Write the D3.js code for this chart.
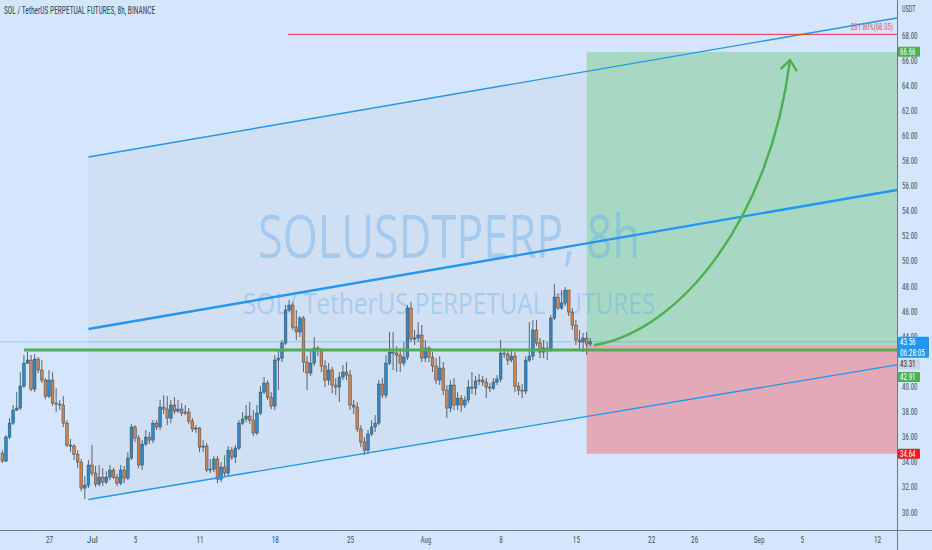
<!DOCTYPE html>
<html><head><meta charset="utf-8">
<script src="https://cdn.jsdelivr.net/npm/d3@7"></script>
<style>
html,body{margin:0;padding:0;background:#d3e6fb;}
svg{display:block;}
</style>
</head><body>
<svg id="chart" width="932" height="550"></svg>
<script>
// ---------- data ----------
const title = "SOL / TetherUS PERPETUAL FUTURES, 8h, BINANCE";
const watermark1 = "SOLUSDTPERP, 8h";
const watermark2 = "SOL/ TetherUS PERPETUAL FUTURES";
const firstCandle = "2021-06-22T16:00:00Z";   // 8h candles
const firstOpen = 34.69;
const closes = [34.06,35.97,37.08,38.12,38.28,40.03,41.86,42.10,39.79,42.18,
41.31,40.51,39.23,40.51,38.68,38.60,38.52,37.08,35.33,35.25,
34.61,33.98,31.90,32.14,33.74,33.10,32.22,32.78,32.38,32.78,
33.34,32.78,32.30,33.34,32.70,34.30,36.77,35.89,33.74,35.41,
35.97,35.73,37.08,36.77,38.36,38.20,37.48,38.52,38.04,38.20,
37.88,37.96,37.24,36.61,36.69,35.17,35.25,33.34,33.42,34.22,
32.62,33.58,33.10,34.93,34.37,35.09,37.08,37.40,37.64,37.32,
36.29,37.88,39.55,40.27,39.15,38.44,42.10,42.26,43.46,46.09,
46.49,44.73,44.34,45.45,41.94,41.07,41.86,43.06,42.90,41.63,
40.51,41.31,40.11,39.95,40.75,41.15,40.91,38.52,38.36,36.61,
35.57,34.93,36.21,36.77,37.08,40.19,39.31,41.86,42.74,42.66,
42.50,41.86,42.34,46.25,43.78,43.86,44.10,42.26,43.06,42.34,
41.63,40.51,41.47,39.71,38.28,40.11,38.52,39.07,38.52,38.92,
39.95,39.87,40.43,40.51,40.35,39.95,39.87,40.35,40.59,42.66,
42.58,42.10,42.42,40.03,39.71,39.63,42.10,42.42,44.50,43.46,
42.74,43.06,42.90,45.45,47.12,46.25,46.65,47.68,45.93,44.89,
43.70,43.54,43.86,43.38,43.56];
const highs = [34.93,36.13,37.48,38.52,39.55,41.15,42.50,42.74,42.50,42.58,
42.34,42.10,40.67,41.31,41.15,39.87,38.92,39.23,37.32,35.81,
35.41,34.93,34.22,32.86,34.14,35.33,33.66,33.74,33.50,33.26,
33.74,33.50,33.02,33.74,33.66,34.77,37.00,36.92,36.13,35.73,
36.53,36.37,37.32,37.32,38.92,39.31,39.23,38.92,39.15,38.92,
38.68,38.52,38.28,37.48,36.92,36.77,35.73,35.49,34.22,34.45,
34.45,33.98,34.53,35.25,35.17,35.33,37.32,37.96,38.52,38.76,
38.12,38.52,40.03,40.75,40.51,39.55,42.50,42.90,43.70,46.49,
46.89,46.73,46.09,45.61,45.61,42.42,42.90,43.94,43.22,43.06,
42.10,41.86,41.55,40.67,41.15,41.71,41.94,41.31,38.92,38.76,
36.92,35.97,36.53,37.32,37.72,40.51,40.67,42.50,44.34,44.34,
43.22,43.06,43.54,46.49,46.73,44.50,45.13,44.89,43.70,43.22,
42.74,42.26,42.42,41.94,40.11,40.51,40.67,39.55,39.31,39.23,
40.51,41.15,40.83,40.99,40.83,40.67,40.27,40.67,40.91,43.70,
43.06,42.90,42.90,42.74,40.35,40.19,42.42,45.13,45.29,45.29,
43.86,43.70,43.54,45.69,48.16,47.36,47.68,47.92,47.68,46.25,
45.29,44.50,44.26,44.34,43.86];
const lows = [33.90,33.98,35.81,36.92,38.04,38.12,39.87,41.79,39.63,39.55,
41.07,40.27,38.99,39.07,38.44,37.96,38.12,36.77,35.17,34.77,
34.14,33.50,31.66,31.03,31.90,32.86,31.98,32.06,32.06,32.22,
32.54,32.62,32.06,32.14,32.30,32.54,34.14,35.57,33.50,33.34,
35.25,35.41,35.49,36.53,36.53,37.80,36.92,37.08,37.80,37.88,
37.64,37.72,37.00,36.37,36.29,34.77,34.77,33.18,33.10,33.18,
32.30,32.38,32.86,32.86,34.14,33.90,34.93,36.92,37.16,37.00,
36.05,36.13,37.72,39.39,38.92,38.20,38.12,39.71,41.94,43.30,
45.93,44.50,43.70,43.94,41.15,39.71,40.83,41.63,42.42,41.15,
39.95,40.11,39.47,39.31,38.76,40.51,40.51,38.12,37.80,36.37,
35.17,34.53,34.61,36.05,36.37,36.92,39.07,39.07,41.71,41.31,
41.15,41.15,41.63,42.10,43.54,43.30,43.54,41.94,41.94,41.94,
41.15,40.19,40.11,39.31,37.48,37.96,38.12,38.12,37.96,38.28,
38.68,39.39,39.31,40.11,40.03,39.07,39.55,39.71,40.11,40.35,
42.26,41.71,41.94,39.55,39.31,39.07,39.39,41.94,42.10,43.22,
42.26,42.26,42.10,42.74,45.29,46.09,46.09,46.41,45.61,44.50,
43.30,42.90,42.74,42.50,43.22];

const timeTicks = ["2021-06-27","2021-07-01","2021-07-05","2021-07-11","2021-07-18","2021-07-25","2021-08-01","2021-08-08","2021-08-15","2021-08-22","2021-08-26","2021-09-01","2021-09-05","2021-09-12"];
const timeTickLabels = ["27","Jul","5","11","18","25","Aug","8","15","22","26","Sep","5","12"];
// 42.00 is hidden behind the stacked price tags on the axis
const priceTicks = [30,32,34,36,38,40,44,46,48,50,52,54,56,58,60,62,64,66,68];

// drawings (date, price)
const channelDates = ["2021-06-30T16:00:00Z","2021-09-13T20:40:00Z"];
const upperLine  = [58.28, 69.35];
const middleLine = [44.58, 55.65];
const lowerLine  = [31.00, 41.72];
const supportLevel = 42.91;
const supportStart = "2021-06-24T16:00:00Z";
const fibLevel = 68.05, fibLabel = "261.80%(68.05)";
const fibStart = "2021-07-19T05:30:00Z";
const positionStart = "2021-08-16T00:00:00Z";
const takeProfit = 66.66, entryPrice = 43.31, stopLoss = 34.64;
const lastPrice = 43.56, countdown = "06:28:05";
const arrowDates  = ["2021-08-16T18:40:00Z","2021-08-24T16:20:00Z","2021-09-02T01:10:00Z","2021-09-03T21:50:00Z"];
const arrowPrices = [43.30, 44.50, 53.26, 66.01];

// ---------- scales ----------
const W = 897, H = 530;
const svg = d3.select("#chart");
const x = d3.scaleUtc()
  .domain([new Date("2021-06-22T10:40:00Z"), new Date("2021-09-13T20:40:00Z")])
  .range([0, W]);
const y = d3.scaleLinear().domain([30, 68]).range([512, 35]);

const t0 = new Date(firstCandle).getTime();
const candles = closes.map((c, i) => ({
  t: new Date(t0 + i * 8 * 3600e3),
  o: i === 0 ? firstOpen : closes[i - 1],
  h: highs[i], l: lows[i], c: c
}));

const NARROW = "'Liberation Sans Narrow','Roboto Condensed','DejaVu Sans Condensed',Arial,sans-serif";
function fit(sel, perChar) {
  sel.each(function () {
    const n = this.textContent.length;
    d3.select(this).attr("textLength", n * perChar).attr("lengthAdjust", "spacingAndGlyphs");
  });
  return sel;
}

svg.append("rect").attr("width", 932).attr("height", 550).attr("fill", "#d3e6fb");

const defs = svg.append("defs");
defs.append("clipPath").attr("id", "plot")
  .append("rect").attr("x", 0).attr("y", 0).attr("width", W).attr("height", H);
defs.append("marker")
  .attr("id", "ah").attr("viewBox", "0 0 10 10").attr("refX", 6).attr("refY", 5)
  .attr("markerWidth", 8).attr("markerHeight", 8).attr("orient", "auto")
  .append("path").attr("d", "M1,1 L6,5 L1,9").attr("fill", "none")
  .attr("stroke", "#4caf50").attr("stroke-width", 1.2).attr("stroke-linecap", "round")
  .attr("stroke-linejoin", "round");

const plot = svg.append("g").attr("clip-path", "url(#plot)");

// channel background fill (only over the drawn part of the channel)
const c0 = new Date(channelDates[0]), c1 = new Date(channelDates[1]), pS = new Date(positionStart);
const frac = (pS - c0) / (c1 - c0);
const upAt = upperLine[0] + (upperLine[1] - upperLine[0]) * frac;
const loAt = lowerLine[0] + (lowerLine[1] - lowerLine[0]) * frac;
plot.append("path")
  .attr("d", d3.line()([[x(c0), y(upperLine[0])], [x(pS), y(upAt)], [x(pS), y(loAt)], [x(c0), y(lowerLine[0])]]) + "Z")
  .attr("fill", "#c9d2de").attr("opacity", 0.3);

// position tool
const px0 = x(pS);
plot.append("rect").attr("x", px0).attr("y", y(takeProfit))
  .attr("width", W - px0).attr("height", y(entryPrice) - y(takeProfit))
  .attr("fill", "#a7d8c4");
plot.append("rect").attr("x", px0).attr("y", y(entryPrice))
  .attr("width", W - px0).attr("height", y(stopLoss) - y(entryPrice))
  .attr("fill", "#e2a9b7");

// watermark (semi-transparent, over the boxes)
plot.append("text").attr("x", 449).attr("y", 258).attr("text-anchor", "middle")
  .attr("font-family", "'Open Sans',sans-serif").attr("font-size", 60)
  .attr("textLength", 382).attr("lengthAdjust", "spacingAndGlyphs")
  .attr("fill", "#62adec").attr("fill-opacity", 0.4).text(watermark1);
plot.append("text").attr("x", 449).attr("y", 314).attr("text-anchor", "middle")
  .attr("font-family", "'Open Sans',sans-serif").attr("font-size", 30)
  .attr("textLength", 412).attr("lengthAdjust", "spacingAndGlyphs")
  .attr("fill", "#62adec").attr("fill-opacity", 0.4).text(watermark2);

// last price line
plot.append("line").attr("x1", 0).attr("x2", W).attr("y1", y(lastPrice)).attr("y2", y(lastPrice))
  .attr("stroke", "#2196f3").attr("stroke-opacity", 0.35).attr("stroke-width", 1);

// candles
const cg = plot.append("g");
const bw = 2.7;
cg.selectAll("line.w").data(candles).join("line")
  .attr("x1", d => x(d.t)).attr("x2", d => x(d.t))
  .attr("y1", d => y(d.h)).attr("y2", d => y(d.l))
  .attr("stroke", "#4b5661").attr("stroke-width", 0.9);
cg.selectAll("rect.b").data(candles).join("rect")
  .attr("x", d => x(d.t) - bw / 2)
  .attr("y", d => y(Math.max(d.o, d.c)))
  .attr("width", bw)
  .attr("height", d => Math.max(1, Math.abs(y(d.o) - y(d.c))))
  .attr("fill", d => d.c >= d.o ? "#2b8acb" : "#d0834f")
  .attr("stroke", "#3c4650").attr("stroke-width", 0.5);

// channel lines
const lineFrom = (vals, w) => plot.append("line")
  .attr("x1", x(c0)).attr("y1", y(vals[0]))
  .attr("x2", x(c1)).attr("y2", y(vals[1]))
  .attr("stroke", "#2196f3").attr("stroke-width", w);
lineFrom(upperLine, 1.4);
lineFrom(middleLine, 2.4);
lineFrom(lowerLine, 1.4);

// support level
plot.append("line").attr("x1", x(new Date(supportStart))).attr("x2", W)
  .attr("y1", y(supportLevel)).attr("y2", y(supportLevel))
  .attr("stroke", "#4caf50").attr("stroke-width", 3);

// fib line
plot.append("line").attr("x1", x(new Date(fibStart))).attr("x2", W)
  .attr("y1", y(fibLevel)).attr("y2", y(fibLevel))
  .attr("stroke", "#e53935").attr("stroke-width", 1);
fit(plot.append("text").attr("x", 893).attr("y", y(fibLevel) - 4).attr("text-anchor", "end")
  .attr("font-family", NARROW).attr("font-size", 8.5).attr("fill", "#e0556a").text(fibLabel), 3.0);

// arrow
const ap = arrowDates.map((d, i) => [x(new Date(d)), y(arrowPrices[i])]);
const path = d3.path();
path.moveTo(ap[0][0], ap[0][1]);
path.bezierCurveTo(ap[1][0], ap[1][1], ap[2][0], ap[2][1], ap[3][0], ap[3][1]);
plot.append("path").attr("d", path.toString()).attr("fill", "none")
  .attr("stroke", "#4caf50").attr("stroke-width", 2.4).attr("stroke-linecap", "round")
  .attr("marker-end", "url(#ah)");

// ---------- axes ----------
const xAxis = d3.axisBottom(x)
  .tickValues(timeTicks.map(s => new Date(s + "T00:00:00Z")))
  .tickFormat((d, i) => timeTickLabels[i]).tickSize(0).tickPadding(6);
const gx = svg.append("g").attr("transform", `translate(0,${H})`).call(xAxis);
gx.select(".domain").remove();
fit(gx.selectAll("text").attr("font-family", NARROW).attr("font-size", 9.5).attr("fill", "#4a5058"), 3.6);

const yAxis = d3.axisRight(y).tickValues(priceTicks).tickFormat(d3.format(".2f"))
  .tickSize(0).tickPadding(5);
const gy = svg.append("g").attr("transform", `translate(${W},0)`).call(yAxis);
gy.select(".domain").remove();
fit(gy.selectAll("text").attr("font-family", NARROW).attr("font-size", 9.5).attr("fill", "#4a5058"), 3.1);

fit(svg.append("text").attr("x", 902).attr("y", 12).attr("font-family", NARROW)
  .attr("font-size", 9.5).attr("fill", "#4a5058").text("USDT"), 3.4);

svg.append("line").attr("x1", 0).attr("x2", 932).attr("y1", H + 0.5).attr("y2", H + 0.5)
  .attr("stroke", "#6f7880").attr("stroke-width", 1);
svg.append("line").attr("x1", W + 0.5).attr("x2", W + 0.5).attr("y1", 0).attr("y2", 550)
  .attr("stroke", "#6f7880").attr("stroke-width", 1);

// price tags on axis (stacked like the platform does)
function tag(yc, lines, bg, fg, w) {
  const lh = 11;
  const h = lh * lines.length - 1;
  const g = svg.append("g");
  g.append("rect").attr("x", W + 1).attr("y", yc - 5).attr("width", w).attr("height", h)
    .attr("rx", 1).attr("fill", bg);
  lines.forEach((s, i) => fit(g.append("text").attr("x", W + 3).attr("y", yc + 3 + i * lh)
    .attr("font-family", NARROW).attr("font-size", 8.5).attr("fill", fg).text(s), 3.1));
}
tag(y(takeProfit), [takeProfit.toFixed(2)], "#4caf50", "#ffffff", 22);
tag(y(lastPrice), [lastPrice.toFixed(2), countdown], "#2196f3", "#ffffff", 31);
tag(y(entryPrice) + 19.5, [entryPrice.toFixed(2)], "#c9d5e2", "#2a2e39", 22);
tag(y(supportLevel) + 27, [supportLevel.toFixed(2)], "#4caf50", "#ffffff", 22);
tag(y(stopLoss), [stopLoss.toFixed(2)], "#f21d1d", "#ffffff", 22);

// title
fit(svg.append("text").attr("x", 4).attr("y", 14).attr("font-family", NARROW)
  .attr("font-size", 10).attr("fill", "#3b4250").text(title), 3.36);
</script>
</body></html>
